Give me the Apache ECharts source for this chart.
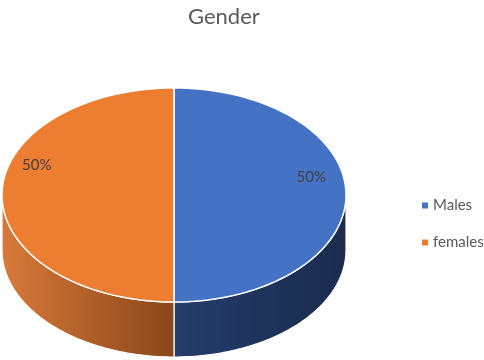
<!DOCTYPE html>
<html>
<head>
<meta charset="utf-8">
<script src="https://cdn.jsdelivr.net/npm/echarts@6/dist/echarts.min.js"></script>
<style>
  html, body { margin: 0; padding: 0; background: #fff; }
  #genderPie3dChart { width: 484px; height: 360px; }
</style>
</head>
<body>
<div id="genderPie3dChart"></div>
<script>
// 데이터
var categories = ['Males', 'females'];
var values = [50, 50];

// 색상 (윗면 / 옆면 그라데이션)
var topColors = ['#4472C4', '#ED7D31'];
var sideStops = [
	[['#243d6b', 0.5], ['#1a2b4e', 1]],
	[['#d8793a', 0], ['#8a461a', 0.5]]
];

var chartDom = document.getElementById('genderPie3dChart');
var myChart = echarts.init(chartDom);

// 3D 파이 형태 (타원)
var cx = 174, cy = 195, rx = 172, ry = 107, depth = 55;

var total = values.reduce(function (a, b) { return a + b; }, 0);

function ellPoint(theta, dy) {
	// theta: 12시 방향 기준 시계방향 각도
	return [cx + rx * Math.sin(theta), cy - ry * Math.cos(theta) + (dy || 0)];
}

function sliceRange(idx) {
	var start = 0;
	for (var i = 0; i < idx; i++) start += values[i];
	var a0 = start / total * Math.PI * 2;
	var a1 = (start + values[idx]) / total * Math.PI * 2;
	return [a0, a1];
}

function makeRenderItem(idx) {
	return function (params, api) {
		var r = sliceRange(idx);
		var a0 = r[0], a1 = r[1];
		var children = [];
		var n = 80, i, t;

		// 옆면 (앞쪽 절반만 보임)
		var s0 = Math.max(a0, Math.PI / 2), s1 = Math.min(a1, Math.PI * 1.5);
		if (s1 > s0) {
			var sidePts = [];
			for (i = 0; i <= n; i++) {
				t = s0 + (s1 - s0) * i / n;
				sidePts.push(ellPoint(t, 0));
			}
			for (i = n; i >= 0; i--) {
				t = s0 + (s1 - s0) * i / n;
				sidePts.push(ellPoint(t, depth));
			}
			children.push({
				type: 'polygon',
				z2: 1,
				shape: { points: sidePts },
				style: {
					fill: new echarts.graphic.LinearGradient(cx - rx, 0, cx + rx, 0,
						sideStops[idx].map(function (s) { return { offset: s[1], color: s[0] }; }), true),
					stroke: '#ffffff',
					lineWidth: 1.2
				}
			});
		}

		// 윗면
		var topPts = [[cx, cy]];
		for (i = 0; i <= n; i++) {
			t = a0 + (a1 - a0) * i / n;
			topPts.push(ellPoint(t, 0));
		}
		children.push({
			type: 'polygon',
			z2: 2,
			shape: { points: topPts },
			style: { fill: topColors[idx], stroke: '#ffffff', lineWidth: 1.5 }
		});

		// 라벨 (약간 회전된 위치)
		var mid = (a0 + a1) / 2 + 0.07;
		var lp = ellPoint(mid, 0);
		children.push({
			type: 'text',
			z2: 3,
			style: {
				text: Math.round(values[idx] / total * 100) + '%',
				x: cx + (lp[0] - cx) * 0.8,
				y: cy + (lp[1] - cy) * 0.8 - 24,
				fill: '#404040',
				fontSize: 15,
				fontFamily: 'Lato',
				align: 'center',
				verticalAlign: 'middle'
			}
		});

		return { type: 'group', children: children };
	};
}

var series = categories.map(function (name, idx) {
	return {
		name: name,
		type: 'custom',
		coordinateSystem: 'none',
		itemStyle: { color: topColors[idx] },
		data: [values[idx]],
		renderItem: makeRenderItem(idx),
		silent: true
	};
});

var option = {
	animation: false,
	title: {
		text: 'Gender',
		left: 183,
		top: 1,
		textStyle: {
			fontSize: 22,
			fontWeight: 'normal',
			color: '#595959',
			fontFamily: 'Lato'
		}
	},
	legend: {
		orient: 'vertical',
		left: 417,
		top: 193,
		itemGap: 22,
		itemWidth: 6,
		itemHeight: 6,
		icon: 'rect',
		data: categories,
		textStyle: { fontSize: 15, color: '#595959', fontFamily: 'Lato' }
	},
	series: series
};

myChart.setOption(option);
</script>
</body>
</html>
